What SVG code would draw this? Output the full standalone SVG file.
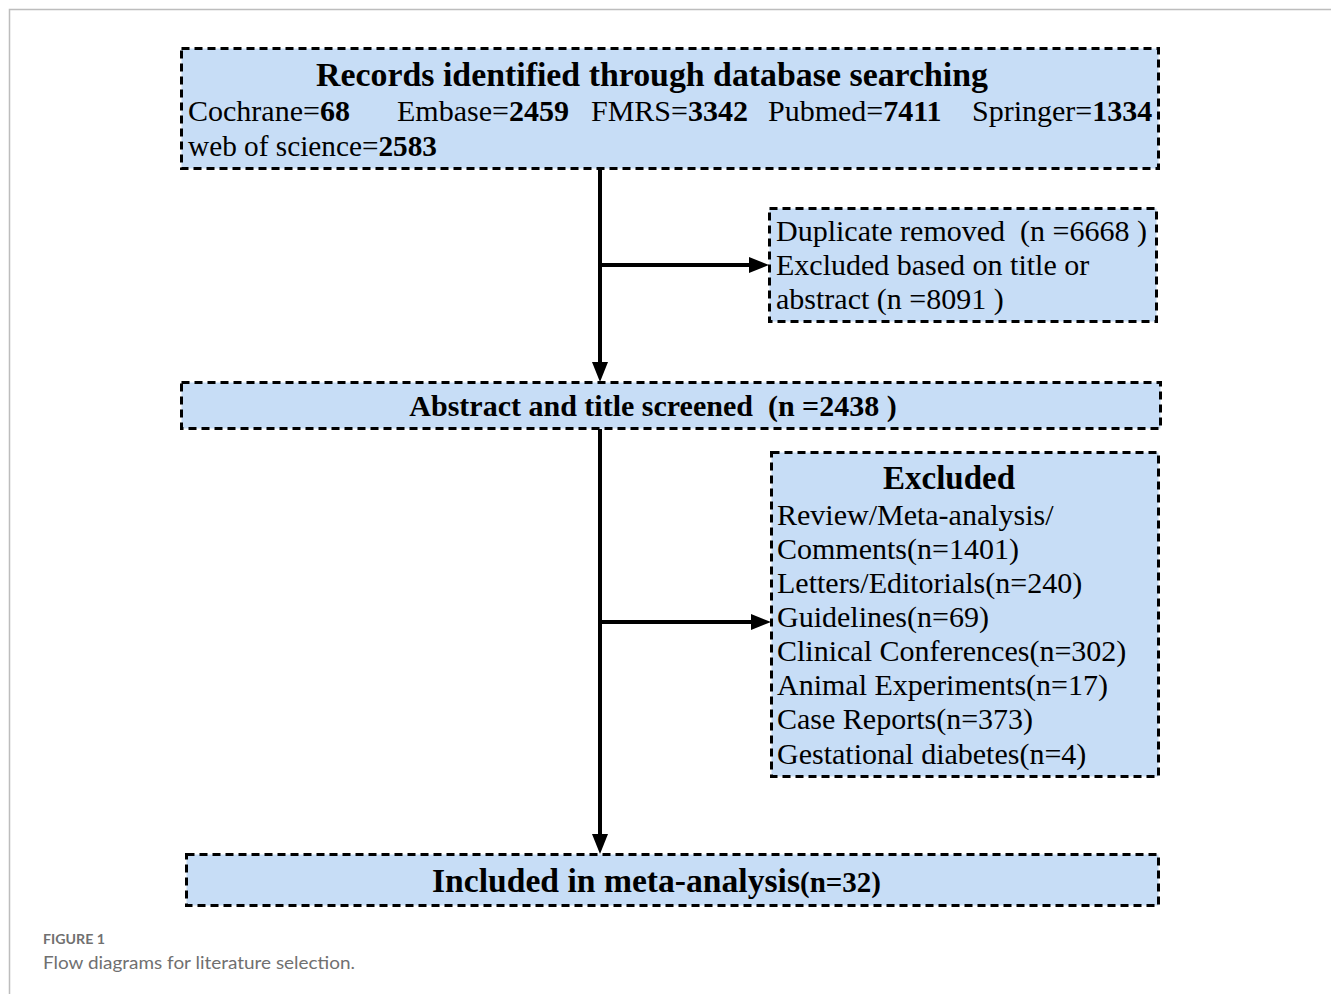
<svg xmlns="http://www.w3.org/2000/svg" width="1331" height="994" viewBox="0 0 1331 994">
<style>
.box{fill:#c7ddf6;stroke:#000;stroke-width:3;stroke-dasharray:8 5}
.t{font-family:"Liberation Serif","Times New Roman",serif;font-size:30px;fill:#000}
.b{font-weight:bold}
.h{font-family:"Liberation Serif","Times New Roman",serif;font-weight:bold;fill:#000}
.ln{stroke:#000;stroke-width:4;fill:none}
.head{fill:#000}
.cap{font-family:Lato,"Open Sans",sans-serif;fill:#707070}
</style>
<rect width="1331" height="994" fill="#fff"/>
<path d="M9.5,994 V9.5 H1331" fill="none" stroke="#bdbdbd" stroke-width="1.5"/>

<g id="connectors">
<line class="ln" x1="600" y1="169" x2="600" y2="364"/>
<path class="head" d="M592,362 L608,362 L600,382 Z"/>
<line class="ln" x1="600" y1="265" x2="751" y2="265"/>
<path class="head" d="M749,257 L749,273 L769,265 Z"/>
<line class="ln" x1="600" y1="429" x2="600" y2="836"/>
<path class="head" d="M592,834 L608,834 L600,854 Z"/>
<line class="ln" x1="600" y1="622" x2="753" y2="622"/>
<path class="head" d="M751,614 L751,630 L771,622 Z"/>
</g>

<g id="records">
<rect class="box" x="181.5" y="48.5" width="977" height="120"/>
<text class="h" x="652" y="86" font-size="34" text-anchor="middle" textLength="672" lengthAdjust="spacingAndGlyphs">Records identified through database searching</text>
<text class="t" y="121"><tspan x="188">Cochrane=</tspan><tspan class="b">68</tspan><tspan x="397">Embase=</tspan><tspan class="b">2459</tspan><tspan x="591">FMRS=</tspan><tspan class="b">3342</tspan><tspan x="768">Pubmed=</tspan><tspan class="b">7411</tspan><tspan x="972">Springer=</tspan><tspan class="b">1334</tspan></text>
<text class="t" x="188" y="156" textLength="249" lengthAdjust="spacingAndGlyphs">web of science=<tspan class="b">2583</tspan></text>
</g>

<g id="duplicate">
<rect class="box" x="769.5" y="208.5" width="387" height="113"/>
<text class="t" x="776" y="241" xml:space="preserve">Duplicate removed  (n =6668 )</text>
<text class="t" x="776" y="275">Excluded based on title or</text>
<text class="t" x="776" y="309">abstract (n =8091 )</text>
</g>

<g id="screened">
<rect class="box" x="181.5" y="382.5" width="979" height="46"/>
<text class="t b" x="653" y="416" text-anchor="middle" xml:space="preserve">Abstract and title screened  (n =2438 )</text>
</g>

<g id="excluded">
<rect class="box" x="771.5" y="452.5" width="387" height="324"/>
<text class="h" x="949" y="489" font-size="33" text-anchor="middle">Excluded</text>
<text class="t" x="777" y="525">Review/Meta-analysis/</text>
<text class="t" x="777" y="559">Comments(n=1401)</text>
<text class="t" x="777" y="593">Letters/Editorials(n=240)</text>
<text class="t" x="777" y="627">Guidelines(n=69)</text>
<text class="t" x="777" y="661">Clinical Conferences(n=302)</text>
<text class="t" x="777" y="695">Animal Experiments(n=17)</text>
<text class="t" x="777" y="729">Case Reports(n=373)</text>
<text class="t" x="777" y="764">Gestational diabetes(n=4)</text>
</g>

<g id="included">
<rect class="box" x="186.5" y="854.5" width="972" height="51"/>
<text class="h" x="432" y="892" font-size="34"><tspan textLength="368" lengthAdjust="spacingAndGlyphs">Included in meta-analysis</tspan><tspan font-size="29">(n=32)</tspan></text>
</g>

<g id="caption">
<text class="cap" x="43" y="944" font-size="13.5" font-weight="bold" fill="#777" textLength="62" lengthAdjust="spacingAndGlyphs">FIGURE 1</text>
<text class="cap" x="43" y="969" font-size="17" textLength="312" lengthAdjust="spacingAndGlyphs">Flow diagrams for literature selection.</text>
</g>
</svg>
